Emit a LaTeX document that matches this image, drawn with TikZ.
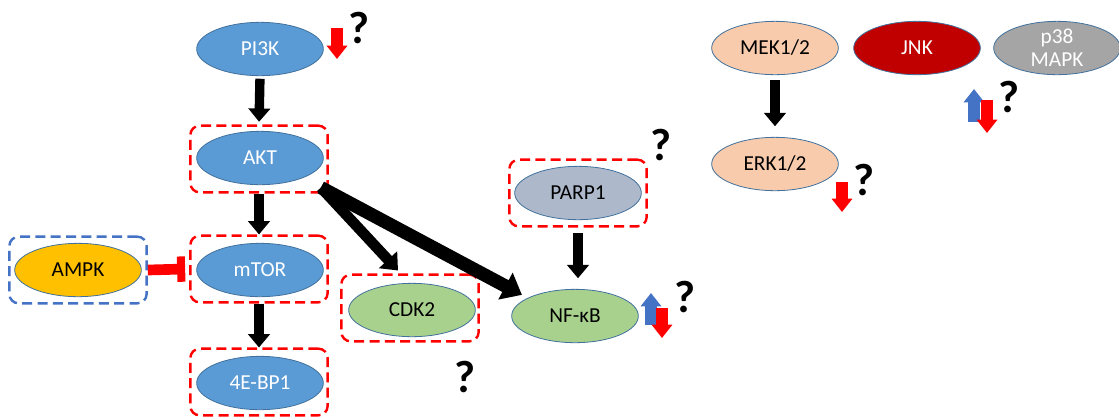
\documentclass[tikz,border=0pt]{standalone}
\usepackage{fontspec}
\setmainfont{Carlito}
\usetikzlibrary{arrows.meta,shapes.geometric}
\definecolor{kinblue}{HTML}{5B9BD5}
\definecolor{edgeblue}{HTML}{41719C}
\definecolor{cdkgreen}{HTML}{A9D18E}
\definecolor{parpgray}{HTML}{ADB9CA}
\definecolor{ampkgold}{HTML}{FFC000}
\definecolor{mekpeach}{HTML}{F8CBAD}
\definecolor{jnkred}{HTML}{C00000}
\definecolor{mapkgray}{HTML}{A5A5A5}
\definecolor{upblue}{HTML}{4472C4}
\tikzset{
  prot/.style={ellipse, draw=edgeblue, line width=.6pt, inner sep=0pt,
    minimum width=95pt, minimum height=40pt, align=center,
    font=\fontsize{16}{17}\selectfont},
  hibox/.style={draw=red, line width=1.8pt, dash pattern=on 7.5pt off 4pt,
    rounded corners=7pt, minimum width=103pt, minimum height=50pt},
  ampkbox/.style={hibox, draw=upblue},
  fat/.style={line width=7pt, -{Triangle[width=16pt,length=10pt]}},
  downind/.style={red, line width=8.5pt, -{Triangle[width=15pt,length=10pt]}},
  upind/.style={upblue, line width=8.5pt, -{Triangle[width=15pt,length=10pt]}},
  inhib/.style={red, line width=8pt, -{Bar[width=19pt,line width=6pt]}},
  qmark/.style={font=\fontsize{34}{34}\bfseries\selectfont, inner sep=0pt}
}
\begin{document}
\begin{tikzpicture}[x=.75pt, y=-.75pt]
	\useasboundingbox (0,0) rectangle (1119,419);
	% akt / mtor branch
	\node[prot, fill=kinblue, text=white]  (pik)    at (260,49)  {PI3K};
	\node[prot, fill=kinblue, text=white]  (akt)    at (260,158) {AKT};
	\node[prot, fill=kinblue, text=white]  (mtor)   at (260,270) {mTOR};
	\node[prot, fill=kinblue, text=white]  (ebp)    at (260,383) {4E-BP1};
	\node[prot, fill=ampkgold]             (ampk)   at (78,270)  {AMPK};
	\node[prot, fill=cdkgreen]             (cdk)    at (412,310) {CDK2};
	\node[prot, fill=cdkgreen]             (nfkb)   at (575,316) {NF-κB};
	\node[prot, fill=parpgray]             (parp)   at (578,193) {PARP1};
	% mapk branch
	\node[prot, fill=mekpeach]             (mek)    at (775,48)  {MEK1/2};
	\node[prot, fill=mekpeach]             (erk)    at (775,164) {ERK1/2};
	\node[prot, fill=jnkred, text=white]   (jnk)    at (917,48)  {JNK};
	\node[prot, fill=mapkgray, text=white] (mapk)   at (1057,48) {p38\\MAPK};
	% dashed frames
	\node[hibox]   (aktbox)  at (259,159) {};
	\node[hibox]   (mtorbox) at (259,269) {};
	\node[hibox]   (ebpbox)  at (259,382) {};
	\node[hibox]   (cdkbox)  at (410,308) {};
	\node[hibox]   (parpbox) at (578,193) {};
	\node[ampkbox] (ampkbx)  at (78,270)  {};
	% connectors
	\draw[fat, shorten <=2pt, shorten >=2pt] (pik.south) -- (aktbox.north);
	\draw[fat] (aktbox.south) -- (mtorbox.north);
	\draw[fat] (mtorbox.south) -- (ebpbox.north);
	\draw[fat, shorten <=4pt, shorten >=8pt] (parpbox.south) -- (parpbox.south |- nfkb.north);
	\draw[fat, shorten <=4pt, shorten >=8pt] (mek.south) -- (erk.north);
	\coordinate (fork) at ([shift={(-8,-6)}]aktbox.south east);
	\draw[line width=8pt, -{Triangle[width=18pt,length=11pt]}] (fork) -- ([shift={(-12,-3)}]cdkbox.north);
	\draw[line width=10pt, -{Triangle[width=22pt,length=14pt]}] (fork) -- ([shift={(-8,-2)}]nfkb.north west);
	\draw[inhib] (ampkbx.east) -- ([xshift=-3]mtorbox.west);
	% up / down marks
	\draw[downind] (337,28) -- (337,59);
	\draw[upind]   (651,325) -- (651,293);
	\draw[downind] (662,308) -- (662,338);
	\draw[downind] (842,182) -- (842,212);
	\draw[upind]   (974,122) -- (974,89);
	\draw[downind] (987,100) -- (987,133);
	\node[qmark] (q1) at (359,28)  {?};
	\node[qmark] (q2) at (661,145) {?};
	\node[qmark] (q3) at (465,377) {?};
	\node[qmark] (q4) at (685,297) {?};
	\node[qmark] (q5) at (864,180) {?};
	\node[qmark] (q6) at (1009,97) {?};
\end{tikzpicture}
\end{document}
